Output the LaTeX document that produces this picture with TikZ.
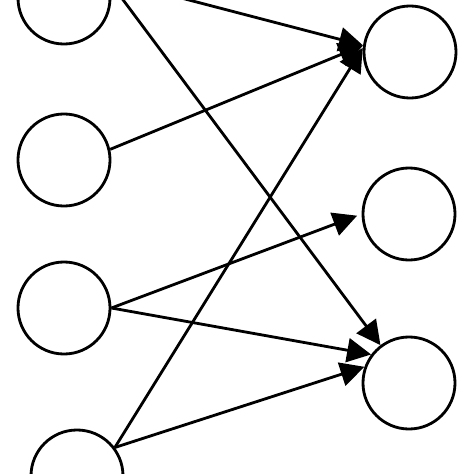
\documentclass[tikz,border=0pt]{standalone}
\usetikzlibrary{arrows.meta}
\begin{document}
\begin{tikzpicture}[x=0.025cm,y=-0.025cm,line width=2pt,
    neuron/.style={draw,circle,inner sep=0pt,minimum size=2.3cm},
    link/.style={draw,-{Triangle[length=0.6cm,width=0.6cm]}}]
        \useasboundingbox (0,0) rectangle (474,474);
        \clip (0,0) rectangle (474,474);
        \node[neuron] at (64,-2) (in1) {};
        \node[neuron] at (64,160) (in2) {};
        \node[neuron] at (64,308) (in3) {};
        \node[neuron] at (77,476) (in4) {};
        \node[neuron] at (410,52) (out1) {};
        \node[neuron] at (409,214) (out2) {};
        \node[neuron] at (409,383) (out3) {};
        \path[link] (in1.24) -- (out1.172);
        \path[link] (in1.24) -- (out3.127);
        \path[link] (in2.13) -- (out1.172);
        \path[link,shorten >=0.12cm] (in3.east) -- (out2.west);
        \path[link] (in3.east) -- (out3.143);
        \path[link] (in4.37) -- (out1.175);
        \path[link] (in4.37) -- (out3.160);
      \end{tikzpicture}
\end{document}
